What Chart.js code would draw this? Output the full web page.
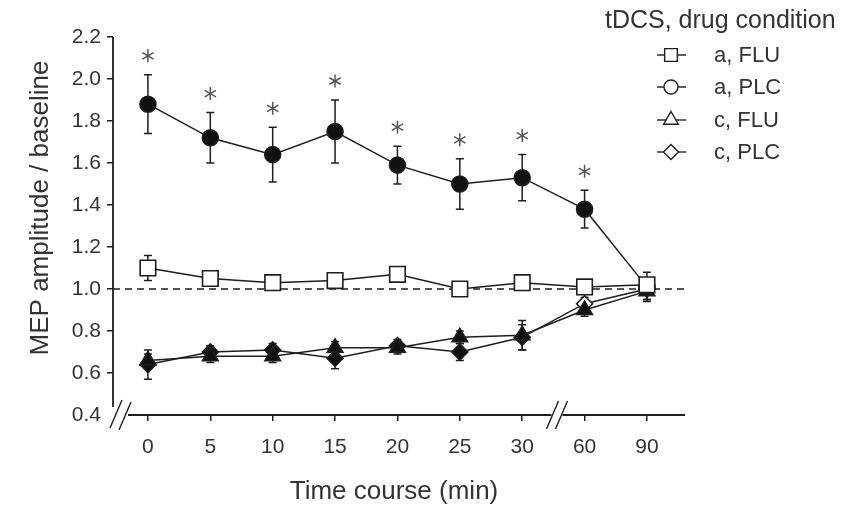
<!DOCTYPE html>
<html>
<head>
<meta charset="utf-8">
<script src="https://cdn.jsdelivr.net/npm/chart.js@4.4.0/dist/chart.umd.min.js"></script>
<style>
  html, body { margin: 0; padding: 0; background: #fff; }
</style>
</head>
<body>
<canvas id="mepChart" width="848" height="507"></canvas>
<script>
// time points (min) - shown as evenly spaced categories
const timeLabels = ['0', '5', '10', '15', '20', '25', '30', '60', '90'];
const yTickValues = [0.4, 0.6, 0.8, 1.0, 1.2, 1.4, 1.6, 1.8, 2.0, 2.2];

// MEP amplitude / baseline, mean and SEM
const aFLU = [1.10, 1.05, 1.03, 1.04, 1.07, 1.00, 1.03, 1.01, 1.02];
const aFLUErr = [0.06, 0.02, 0.02, 0.02, 0.02, 0.02, 0.02, 0.02, 0.03];
const aPLC = [1.88, 1.72, 1.64, 1.75, 1.59, 1.50, 1.53, 1.38, 1.01];
const aPLCErr = [0.14, 0.12, 0.13, 0.15, 0.09, 0.12, 0.11, 0.09, 0.07];
const cFLU = [0.66, 0.68, 0.68, 0.72, 0.72, 0.77, 0.78, 0.90, 0.99];
const cFLUErr = [0.03, 0.03, 0.03, 0.03, 0.03, 0.03, 0.07, 0.03, 0.04];
const cPLC = [0.64, 0.70, 0.71, 0.67, 0.73, 0.70, 0.77, 0.93, 1.00];
const cPLCErr = [0.07, 0.03, 0.03, 0.05, 0.03, 0.04, 0.06, 0.03, 0.05];
// significance marks (a, PLC vs baseline)
const aPLCStars = [true, true, true, true, true, true, true, true, false];

const INK = '#1e1e1e';
const TEXT = '#333';
const FONT = '"Liberation Sans", Arial, sans-serif';

const toPoints = arr => arr.map((v, i) => ({ x: i, y: v }));

// error bars under the markers
const errorBars = {
    id: 'errorBars',
    beforeDatasetsDraw(chart) {
        const ctx = chart.ctx;
        const y = chart.scales.y;
        ctx.save();
        ctx.strokeStyle = INK;
        ctx.lineWidth = 1.5;
        chart.data.datasets.forEach((ds, i) => {
            const meta = chart.getDatasetMeta(i);
            ds.data.forEach((p, j) => {
                const e = ds.errors[j];
                const px = meta.data[j].x;
                const yt = y.getPixelForValue(p.y + e);
                const yb = y.getPixelForValue(p.y - e);
                ctx.beginPath();
                ctx.moveTo(px, yt); ctx.lineTo(px, yb);
                ctx.moveTo(px - 4, yt); ctx.lineTo(px + 4, yt);
                ctx.moveTo(px - 4, yb); ctx.lineTo(px + 4, yb);
                ctx.stroke();
            });
        });
        ctx.restore();
    }
};

// dashed baseline, axes with breaks
const axesAndBaseline = {
    id: 'axesAndBaseline',
    beforeDatasetsDraw(chart) {
        const ctx = chart.ctx;
        const { left, right, top, bottom } = chart.chartArea;
        const x = chart.scales.x;
        const y = chart.scales.y;
        ctx.save();
        ctx.strokeStyle = INK;
        ctx.lineWidth = 1.6;
        // baseline
        ctx.setLineDash([7, 5]);
        ctx.beginPath();
        ctx.moveTo(left, y.getPixelForValue(1.0));
        ctx.lineTo(right, y.getPixelForValue(1.0));
        ctx.stroke();
        ctx.setLineDash([]);
        // y axis
        ctx.lineWidth = 1.8;
        ctx.beginPath();
        ctx.moveTo(left, top);
        ctx.lineTo(left, bottom - 8);
        ctx.stroke();
        // x axis with break between 30 and 60
        const xb = x.getPixelForValue(6.55);
        ctx.beginPath();
        ctx.moveTo(left + 15, bottom);
        ctx.lineTo(xb - 5, bottom);
        ctx.moveTo(xb + 6, bottom);
        ctx.lineTo(right, bottom);
        ctx.stroke();
        // break marks
        ctx.lineWidth = 1.4;
        const slash = (cx, cy) => {
            ctx.beginPath();
            ctx.moveTo(cx - 6, cy + 14);
            ctx.lineTo(cx + 6, cy - 14);
            ctx.stroke();
        };
        slash(left + 3, bottom - 1);
        slash(left + 12, bottom + 1);
        slash(xb - 4, bottom);
        slash(xb + 5, bottom);
        ctx.restore();
    }
};

// asterisks above a, PLC error bars + titles + legend
const annotations = {
    id: 'annotations',
    afterDraw(chart) {
        const ctx = chart.ctx;
        const y = chart.scales.y;
        const meta = chart.getDatasetMeta(1);
        ctx.save();
        ctx.strokeStyle = '#555';
        ctx.lineWidth = 1.5;
        aPLCStars.forEach((s, j) => {
            if (!s) return;
            const cx = meta.data[j].x;
            const cy = y.getPixelForValue(aPLC[j] + aPLCErr[j]) - 19;
            for (let k = 0; k < 3; k++) {
                const a = Math.PI / 2 + k * Math.PI / 3;
                ctx.beginPath();
                ctx.moveTo(cx + Math.cos(a) * 6.5, cy + Math.sin(a) * 6.5);
                ctx.lineTo(cx - Math.cos(a) * 6.5, cy - Math.sin(a) * 6.5);
                ctx.stroke();
            }
        });

        // axis titles
        ctx.fillStyle = TEXT;
        ctx.font = '26px ' + FONT;
        ctx.textAlign = 'center';
        ctx.textBaseline = 'middle';
        ctx.fillText('Time course (min)', 394, 492);
        ctx.save();
        ctx.translate(41, 208);
        ctx.rotate(-Math.PI / 2);
        ctx.fillText('MEP amplitude / baseline', 0, 0);
        ctx.restore();

        // legend
        ctx.textAlign = 'left';
        ctx.font = '25px ' + FONT;
        ctx.fillText('tDCS, drug condition', 605, 21);
        ctx.font = '22px ' + FONT;
        const rows = [55, 87, 120, 152];
        const sizes = [9, 7, 8.5, 7.5];
        chart.data.datasets.forEach((ds, i) => {
            const ry = rows[i];
            ctx.strokeStyle = INK;
            ctx.lineWidth = 1.4;
            ctx.beginPath();
            ctx.moveTo(657, ry); ctx.lineTo(686, ry);
            ctx.stroke();
            ctx.fillStyle = '#fff';
            Chart.helpers.drawPoint(ctx, {
                pointStyle: ds.pointStyle, radius: sizes[i], rotation: 0, borderWidth: 1.4
            }, 671, ry);
            ctx.fillStyle = TEXT;
            ctx.fillText(ds.label, 714, ry + 1);
        });
        ctx.restore();
    }
};

const lineStyle = {
    borderColor: INK,
    borderWidth: 1.5,
    pointBorderColor: INK,
    pointBorderWidth: 1.6,
    tension: 0
};

new Chart(document.getElementById('mepChart'), {
    type: 'line',
    data: {
        datasets: [
            { ...lineStyle, label: 'a, FLU', data: toPoints(aFLU), errors: aFLUErr,
              pointStyle: 'rect', pointRadius: 11, pointBackgroundColor: '#fff' },
            { ...lineStyle, label: 'a, PLC', data: toPoints(aPLC), errors: aPLCErr,
              pointStyle: 'circle', pointRadius: 8, pointBackgroundColor: '#111' },
            { ...lineStyle, label: 'c, FLU', data: toPoints(cFLU), errors: cFLUErr,
              pointStyle: 'triangle', pointRadius: 9, pointBackgroundColor: '#111' },
            { ...lineStyle, label: 'c, PLC', data: toPoints(cPLC), errors: cPLCErr,
              pointStyle: 'rectRot', pointRadius: 8,
              pointBackgroundColor: c => (c.dataIndex === 7 ? '#fff' : '#111') }
        ]
    },
    options: {
        responsive: false,
        animation: false,
        devicePixelRatio: 1,
        layout: { padding: { top: 37, right: 163, bottom: 0, left: 0 } },
        plugins: { legend: { display: false }, tooltip: { enabled: false } },
        scales: {
            x: {
                type: 'linear',
                min: -0.56,
                max: 8.61,
                afterFit: s => { s.height = 92; },
                afterBuildTicks: s => { s.ticks = timeLabels.map((_, i) => ({ value: i })); },
                grid: { drawOnChartArea: false, drawTicks: true, tickLength: 6, color: INK, lineWidth: 1.5 },
                border: { display: false },
                ticks: {
                    padding: 14,
                    color: TEXT,
                    font: { size: 21, family: FONT },
                    callback: v => timeLabels[Math.round(v)]
                }
            },
            y: {
                min: 0.4,
                max: 2.2,
                afterFit: s => { s.width = 113; },
                afterBuildTicks: s => { s.ticks = yTickValues.map(v => ({ value: v })); },
                grid: {
                    drawOnChartArea: false, drawTicks: true, tickLength: 6, lineWidth: 1.5,
                    color: c => (c.tick && c.tick.value === 0.4 ? 'rgba(0,0,0,0)' : INK)
                },
                border: { display: false },
                ticks: {
                    padding: 6,
                    color: TEXT,
                    font: { size: 21, family: FONT },
                    callback: v => v.toFixed(1)
                }
            }
        }
    },
    plugins: [axesAndBaseline, errorBars, annotations]
});
</script>
</body>
</html>
